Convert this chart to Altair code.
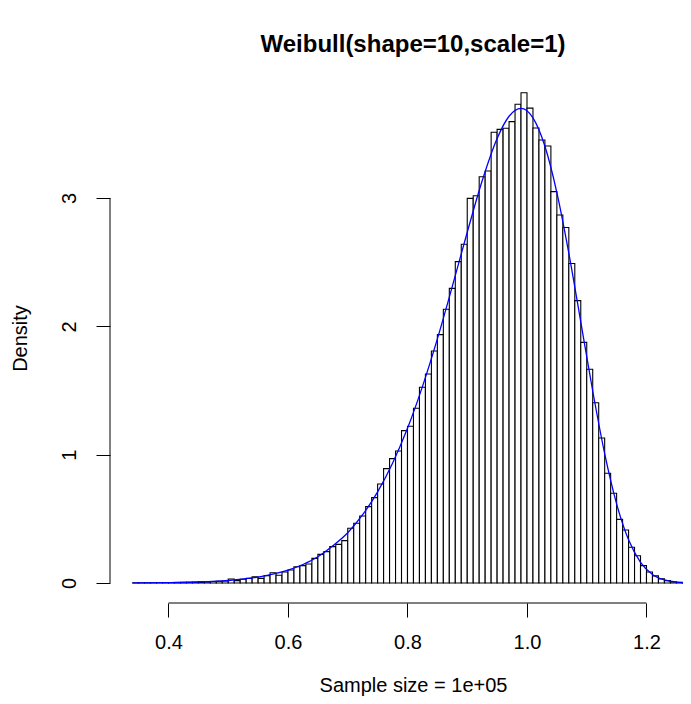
import altair as alt
import pandas as pd

# ---- data ----
bin_start0 = 0.34
bin_width = 0.01
density = [
    # 0.34 - 0.49
    0.001, 0.001, 0.001, 0.002, 0.002, 0.003, 0.003, 0.004, 0.005, 0.006,
    0.007, 0.009, 0.010, 0.012, 0.014, 0.016,
    # 0.50 - 0.69
    0.031, 0.018, 0.029, 0.036, 0.049, 0.036, 0.057, 0.080, 0.060, 0.086,
    0.101, 0.127, 0.135, 0.148, 0.192, 0.223, 0.244, 0.283, 0.301, 0.330,
    # 0.70 - 0.89
    0.426, 0.465, 0.522, 0.595, 0.665, 0.771, 0.891, 0.969, 1.029, 1.187,
    1.221, 1.361, 1.525, 1.629, 1.808, 1.935, 2.133, 2.296, 2.504, 2.639,
    # 0.90 - 1.09
    2.997, 3.018, 3.166, 3.210, 3.512, 3.535, 3.543, 3.595, 3.730, 3.820,
    3.700, 3.545, 3.452, 3.405, 3.050, 2.868, 2.770, 2.490, 2.200, 1.875,
    # 1.10 - 1.27
    1.665, 1.405, 1.130, 0.855, 0.699, 0.496, 0.413, 0.278, 0.212, 0.135,
    0.085, 0.055, 0.032, 0.018, 0.010, 0.005, 0.002, 0.001,
]

curve_x = [0.34, 0.35, 0.40, 0.45, 0.50, 0.55, 0.60, 0.625, 0.65, 0.675,
           0.70, 0.725, 0.75, 0.775, 0.80, 0.825, 0.85, 0.875, 0.90, 0.925,
           0.95, 0.97, 0.99, 1.01, 1.03, 1.05, 1.07, 1.09, 1.11, 1.13,
           1.15, 1.17, 1.19, 1.21, 1.23, 1.25, 1.27, 1.29, 1.31]
curve_y = [0.0006, 0.0008, 0.0026, 0.0076, 0.0195, 0.046, 0.0996, 0.144, 0.204, 0.290,
           0.392, 0.532, 0.710, 0.933, 1.205, 1.530, 1.902, 2.311, 2.733, 3.134,
           3.464, 3.637, 3.698, 3.624, 3.403, 3.042, 2.570, 2.035, 1.496, 1.008,
           0.616, 0.336, 0.161, 0.0666, 0.0233, 0.0067, 0.0016, 0.0003, 0.0001]

x_ticks = [0.4, 0.6, 0.8, 1.0, 1.2]
y_ticks = [0, 1, 2, 3]

title_text = "Weibull(shape=10,scale=1)"
x_title = "Sample size = 1e+05"
y_title = "Density"

# ---- tables ----
bars = pd.DataFrame({
    "lo": [round(bin_start0 + i * bin_width, 2) for i in range(len(density))],
    "density": density,
})
bars["hi"] = (bars["lo"] + bin_width).round(2)
curve = pd.DataFrame({"x": curve_x, "y": curve_y})
xdom = pd.DataFrame({"x0": [min(x_ticks)], "x1": [max(x_ticks)]})
ydom = pd.DataFrame({"y0": [min(y_ticks)], "y1": [max(y_ticks)]})

W, H = 573, 530
FONT = "Liberation Sans"

xscale = alt.Scale(domain=[0.3021, 1.2611], nice=False, zero=False)
yscale = alt.Scale(domain=[-0.156, 3.974], nice=False, zero=False)

xaxis = alt.Axis(values=x_ticks, format=".1f", domain=False, grid=False,
                 tickSize=14, tickColor="black", tickWidth=1,
                 labelFont=FONT, labelFontSize=20, labelColor="black",
                 labelPadding=15, labelFlush=False, labelOverlap=False,
                 title=x_title, titleFont=FONT, titleFontSize=20,
                 titleFontWeight="normal", titleColor="black",
                 titleX=303, titleY=88, titleAlign="center",
                 titleBaseline="alphabetic")
yaxis = alt.Axis(values=y_ticks, format="d", domain=False, grid=False,
                 tickSize=14, tickColor="black", tickWidth=1,
                 labelFont=FONT, labelFontSize=20, labelColor="black",
                 labelAngle=270, labelAlign="center", labelBaseline="alphabetic",
                 labelPadding=21, labelFlush=False, labelOverlap=False,
                 title=y_title, titleFont=FONT, titleFontSize=20,
                 titleFontWeight="normal", titleColor="black",
                 titleAngle=270, titleX=-90, titleY=H / 2,
                 titleAlign="center", titleBaseline="middle")

hist = alt.Chart(bars).mark_bar(fill="white", stroke="black", strokeWidth=1.1,
                                clip=True).encode(
    x=alt.X("lo:Q", scale=xscale, axis=xaxis),
    x2="hi:Q",
    y=alt.Y("density:Q", scale=yscale, axis=yaxis),
    y2=alt.datum(0),
)

line = alt.Chart(curve).mark_line(color="blue", strokeWidth=1.3, clip=True,
                                  interpolate="monotone").encode(
    x=alt.X("x:Q", scale=xscale, axis=xaxis),
    y=alt.Y("y:Q", scale=yscale, axis=yaxis),
)

xrule = alt.Chart(xdom).mark_rule(color="black", strokeWidth=1).encode(
    x=alt.X("x0:Q", scale=xscale, axis=xaxis),
    x2="x1:Q",
    y=alt.value(H),
)
yrule = alt.Chart(ydom).mark_rule(color="black", strokeWidth=1).encode(
    y=alt.Y("y0:Q", scale=yscale, axis=yaxis),
    y2="y1:Q",
    x=alt.value(0),
)

chart = alt.layer(hist, line, xrule, yrule).properties(
    width=W, height=H,
    background="white",
    padding={"left": 102, "top": 65, "right": 0, "bottom": 93},
    autosize=alt.AutoSizeParams(type="none"),
    title=alt.TitleParams(text=title_text, font=FONT, fontSize=24,
                          fontWeight="bold", color="black", anchor="middle",
                          frame="group", dx=16.5, dy=23, offset=20,
                          baseline="alphabetic"),
).configure_view(strokeWidth=0, stroke="transparent")

chart.save("out.html", embed_options={"renderer": "svg", "actions": False})
